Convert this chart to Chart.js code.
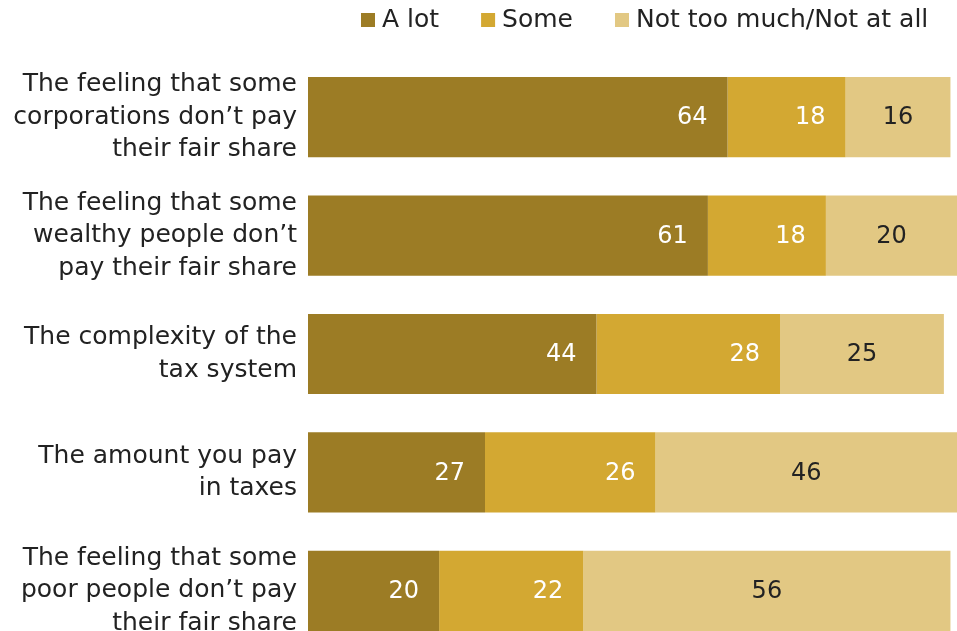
<!DOCTYPE html>
<html>
<head>
<meta charset="utf-8">
<script src="https://cdn.jsdelivr.net/npm/chart.js@4"></script>
<style>
  html, body { margin: 0; padding: 0; background: #fff; overflow: hidden; }
  canvas { display: block; }
</style>
</head>
<body>
<canvas id="taxes" width="957" height="650"></canvas>
<script>
const categories = [
  ['The feeling that some', 'corporations don\u2019t pay', 'their fair share'],
  ['The feeling that some', 'wealthy people don\u2019t', 'pay their fair share'],
  ['The complexity of the', 'tax system'],
  ['The amount you pay', 'in taxes'],
  ['The feeling that some', 'poor people don\u2019t pay', 'their fair share']
];
const aLot = [64, 61, 44, 27, 20];
const some = [18, 18, 28, 26, 22];
const notMuch = [16, 20, 25, 46, 56];

const seriesNames = ['A lot', 'Some', 'Not too much/Not at all'];
const colors = ['#9c7c25', '#d3a832', '#e2c883'];
const labelColors = ['#ffffff', '#ffffff', '#222222'];
const FONT = "'DejaVu Sans', sans-serif";

// value labels inside the bars
const barLabels = {
  id: 'barLabels',
  afterDatasetsDraw(chart) {
    const c = chart.ctx;
    c.save();
    c.font = '24px ' + FONT;
    c.textBaseline = 'middle';
    chart.data.datasets.forEach(function (ds, di) {
      const meta = chart.getDatasetMeta(di);
      meta.data.forEach(function (bar, i) {
        c.fillStyle = labelColors[di];
        if (di < 2) {
          c.textAlign = 'right';
          c.fillText(ds.data[i], bar.x - 20, bar.y + 1);
        } else {
          c.textAlign = 'center';
          c.fillText(ds.data[i], (bar.x + bar.base) / 2, bar.y + 1);
        }
      });
    });
    c.restore();
  }
};

// legend row at the top
const topLegend = {
  id: 'topLegend',
  afterDraw(chart) {
    const c = chart.ctx;
    c.save();
    c.font = '25px ' + FONT;
    c.textBaseline = 'middle';
    c.textAlign = 'left';
    let x = 361;
    const y = 20;
    chart.data.datasets.forEach(function (ds) {
      c.fillStyle = ds.backgroundColor;
      c.fillRect(x, y - 7, 14, 14);
      c.fillStyle = '#222';
      c.fillText(ds.label, x + 21, y);
      x += 21 + c.measureText(ds.label).width + 42;
    });
    c.restore();
  }
};

const ctx = document.getElementById('taxes').getContext('2d');
const config = {
  type: 'bar',
  plugins: [barLabels, topLegend],
  data: {
    labels: categories,
    datasets: [
      { label: seriesNames[0], data: aLot, backgroundColor: colors[0] },
      { label: seriesNames[1], data: some, backgroundColor: colors[1] },
      { label: seriesNames[2], data: notMuch, backgroundColor: colors[2] }
    ]
  },
  options: {
    indexAxis: 'y',
    animation: false,
    responsive: false,
    layout: { padding: { top: 58, right: 0, bottom: 0, left: 0 } },
    datasets: {
      bar: { categoryPercentage: 0.677, barPercentage: 1, borderWidth: 0 }
    },
    scales: {
      x: { stacked: true, display: false, min: 0, max: 99 },
      y: {
        stacked: true,
        grid: { display: false, drawTicks: false },
        border: { display: false },
        ticks: {
          color: '#222',
          padding: 11,
          font: { family: FONT, size: 25, lineHeight: 1.3 }
        },
        afterFit: function (scale) {
          scale.width = 308;
          // let the axis run to the canvas edges, labels may overhang
          scale.paddingTop = 0;
          scale.paddingBottom = 0;
        }
      }
    },
    plugins: {
      legend: { display: false },
      tooltip: { enabled: false }
    }
  }
};
var taxChart = new Chart(ctx, config);
</script>
</body>
</html>
